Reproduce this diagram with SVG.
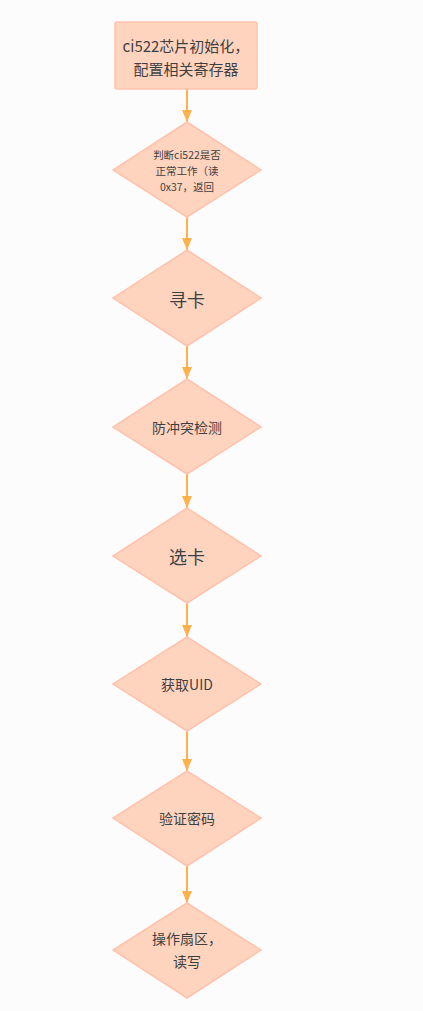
<svg xmlns="http://www.w3.org/2000/svg" width="423" height="1011" viewBox="0 0 423 1011">
<defs>
<style>
.n{fill:#FFD4BF;stroke:#FFC2AC;stroke-width:1.5}
.t{font-family:"Noto Sans CJK SC","Noto Sans",sans-serif;fill:#3f3f3f;text-anchor:middle;dominant-baseline:central}
.c{stroke:#FFB14E;stroke-width:2;fill:none}
</style>
<marker id="a" viewBox="0 0 12 10" refX="12" refY="5" markerWidth="12" markerHeight="10" markerUnits="userSpaceOnUse" orient="auto">
<path d="M0,0 L12,5 L0,10 Z" fill="#FFB14E"/>
</marker>
</defs>
<rect width="423" height="1011" fill="#FCFCFC"/>
<g id="connectors">
<line class="c" x1="187" y1="89" x2="187" y2="122" marker-end="url(#a)"/>
<line class="c" x1="187" y1="217" x2="187" y2="250" marker-end="url(#a)"/>
<line class="c" x1="187" y1="346" x2="187" y2="379" marker-end="url(#a)"/>
<line class="c" x1="187" y1="474" x2="187" y2="508" marker-end="url(#a)"/>
<line class="c" x1="187" y1="603" x2="187" y2="637" marker-end="url(#a)"/>
<line class="c" x1="187" y1="731" x2="187" y2="771" marker-end="url(#a)"/>
<line class="c" x1="187" y1="866" x2="187" y2="903" marker-end="url(#a)"/>
</g>
<g id="n1">
<rect class="n" x="115" y="22" width="142" height="67" rx="2"/>
<text class="t" x="186" y="45" font-size="15">ci522芯片初始化，</text>
<text class="t" x="186" y="68" font-size="15">配置相关寄存器</text>
</g>
<g id="n2">
<polygon class="n" points="187,122 261,170 187,217 113,170"/>
<text class="t" x="187" y="154" font-size="10.5">判断ci522是否</text>
<text class="t" x="187" y="170" font-size="10.5">正常工作（读</text>
<text class="t" x="187" y="186" font-size="10.5">0x37，返回</text>
</g>
<g id="n3">
<polygon class="n" points="187,250 261,298 187,346 113,298"/>
<text class="t" x="187" y="299" font-size="18">寻卡</text>
</g>
<g id="n4">
<polygon class="n" points="187,379 261,427 187,474 113,427"/>
<text class="t" x="187" y="427" font-size="14">防冲突检测</text>
</g>
<g id="n5">
<polygon class="n" points="187,508 261,556 187,603 113,556"/>
<text class="t" x="187" y="556" font-size="18">选卡</text>
</g>
<g id="n6">
<polygon class="n" points="187,637 261,684 187,731 113,684"/>
<text class="t" x="187" y="684" font-size="14">获取UID</text>
</g>
<g id="n7">
<polygon class="n" points="187,771 261,818 187,866 113,818"/>
<text class="t" x="187" y="818" font-size="14">验证密码</text>
</g>
<g id="n8">
<polygon class="n" points="187,903 261,950 187,998 113,950"/>
<text class="t" x="187" y="938" font-size="14">操作扇区，</text>
<text class="t" x="187" y="961" font-size="14">读写</text>
</g>
</svg>
